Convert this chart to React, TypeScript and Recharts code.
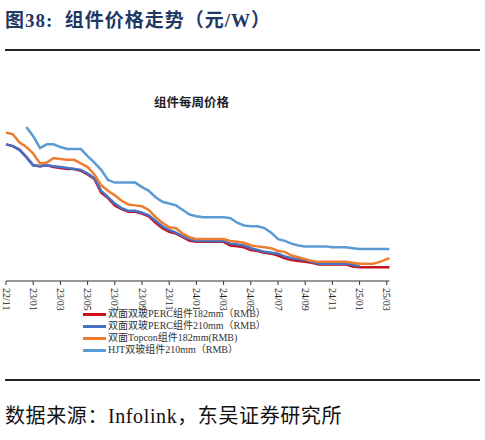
import React from "react";
import { LineChart, Line, XAxis, YAxis } from "recharts";

// x position in months after 2022-11 (half-month steps)
const monthPos = [
  0, 0.5, 1, 1.5, 2, 2.5, 3, 3.5, 4, 4.5, 5, 5.5, 6, 6.5, 7, 7.5, 8, 8.5, 9, 9.5,
  10, 10.5, 11, 11.5, 12, 12.5, 13, 13.5, 14, 14.5, 15, 15.5, 16, 16.5, 17, 17.5,
  18, 18.5, 19, 19.5, 20, 20.5, 21, 21.5, 22, 22.5, 23, 23.5, 24, 24.5, 25, 25.5,
  26, 26.5, 27, 27.5, 28, 28.2,
];

const perc182 = [
  2.0, 1.98, 1.94, 1.86, 1.77, 1.76, 1.77, 1.75, 1.74, 1.73, 1.73, 1.71, 1.67, 1.62,
  1.47, 1.41, 1.33, 1.29, 1.26, 1.26, 1.24, 1.21, 1.14, 1.08, 1.04, 1.02, 0.98, 0.94,
  0.93, 0.93, 0.93, 0.93, 0.93, 0.89, 0.88, 0.87, 0.84, 0.83, 0.81, 0.8, 0.78, 0.75,
  0.73, 0.72, 0.71, 0.7, 0.68, 0.68, 0.68, 0.68, 0.68, 0.66, 0.65, 0.65, 0.65, 0.65,
  0.65, 0.65,
];

const perc210 = [
  2.0, 1.98, 1.94, 1.86, 1.77, 1.76, 1.77, 1.76, 1.75, 1.74, 1.73, 1.72, 1.68, 1.63,
  1.49, 1.42, 1.35, 1.3, 1.27, 1.27, 1.25, 1.22, 1.16, 1.1, 1.06, 1.03, 0.99, 0.96,
  0.94, 0.94, 0.94, 0.94, 0.94, 0.91, 0.9, 0.89, 0.86, 0.84, 0.82, 0.81, 0.8, 0.77,
  0.75, 0.74, 0.73, 0.71, 0.69, 0.69, 0.69, 0.69, 0.69, 0.68, 0.66, null, null, null,
  null, null,
];

const topcon182 = [
  2.13, 2.11, 2.02, 1.97, 1.9, 1.79, 1.8, 1.85, 1.84, 1.83, 1.83, 1.79, 1.75, 1.67,
  1.55, 1.49, 1.44, 1.38, 1.34, 1.33, 1.32, 1.28, 1.2, 1.14, 1.09, 1.08, 1.02, 0.98,
  0.96, 0.96, 0.96, 0.96, 0.96, 0.94, 0.93, 0.92, 0.89, 0.88, 0.87, 0.86, 0.83, 0.82,
  0.78, 0.76, 0.74, 0.72, 0.71, 0.71, 0.71, 0.71, 0.71, 0.7, 0.69, 0.69, 0.69, 0.71,
  0.74, 0.75,
];

const hjt210 = [
  null, null, null, 2.19, 2.09, 1.96, 2.0, 2.0, 1.97, 1.95, 1.95, 1.95, 1.87, 1.8,
  1.72, 1.61, 1.58, 1.58, 1.58, 1.58, 1.53, 1.49, 1.42, 1.37, 1.35, 1.33, 1.28, 1.23,
  1.21, 1.2, 1.2, 1.2, 1.2, 1.19, 1.14, 1.11, 1.1, 1.1, 1.08, 1.03, 0.96, 0.94, 0.91,
  0.89, 0.88, 0.88, 0.88, 0.88, 0.87, 0.87, 0.87, 0.86, 0.85, 0.85, 0.85, 0.85, 0.85,
  0.85,
];

const tickMonths = [0, 2, 4, 6, 8, 10, 12, 14, 16, 18, 20, 22, 24, 26, 28];
const tickLabels = [
  "22/11", "23/01", "23/03", "23/05", "23/07", "23/09", "23/11", "24/01",
  "24/03", "24/05", "24/07", "24/09", "24/11", "25/01", "25/03",
];
const yTicks = [0.5, 0.7, 0.9, 1.1, 1.3, 1.5, 1.7, 1.9, 2.1, 2.3];

const series = [
  { key: "perc182", name: "双面双玻PERC组件182mm（RMB）", color: "#c8101e" },
  { key: "perc210", name: "双面双玻PERC组件210mm（RMB）", color: "#4472c4" },
  { key: "topcon182", name: "双面Topcon组件182mm(RMB)", color: "#ed7d31" },
  { key: "hjt210", name: "HJT双玻组件210mm（RMB）", color: "#5b9bd5" },
];

const data = monthPos.map((m, i) => ({
  m,
  perc182: perc182[i],
  perc210: perc210[i],
  topcon182: topcon182[i],
  hjt210: hjt210[i],
}));

const serif = '"Liberation Serif", "Times New Roman", "Noto Sans CJK SC", serif';

function MonthTick({ x, y, payload }: any) {
  const idx = tickMonths.indexOf(payload.value);
  return (
    <g transform={`translate(${x},${y + 1})`}>
      <text
        transform="rotate(90)"
        dy="0.33em"
        textAnchor="start"
        fontSize={10}
        fontFamily={serif}
        fill="#222"
      >
        {tickLabels[idx]}
      </text>
    </g>
  );
}

export default function App() {
  return (
    <div
      style={{
        position: "absolute",
        left: 0,
        top: 0,
        width: 485,
        height: 440,
        background: "#fff",
        overflow: "hidden",
      }}
    >
      <div
        style={{
          position: "absolute",
          left: 5,
          top: 5,
          fontSize: 19,
          fontWeight: "bold",
          color: "#1f3864",
          fontFamily: '"Liberation Serif", "Noto Sans CJK SC", serif',
          whiteSpace: "nowrap",
          letterSpacing: 1,
        }}
      >
        图38:&nbsp;&nbsp;组件价格走势（元/W）
      </div>
      <div
        style={{
          position: "absolute",
          left: 5,
          top: 49,
          width: 475,
          height: 2,
          background: "#222",
        }}
      />

      <div
        style={{
          position: "absolute",
          left: 154,
          top: 92,
          fontSize: 12.5,
          fontWeight: "bold",
          color: "#222",
          fontFamily: '"Noto Sans CJK SC", sans-serif',
          whiteSpace: "nowrap",
        }}
      >
        组件每周价格
      </div>

      <div style={{ position: "absolute", left: 0, top: 0 }}>
        <LineChart
          width={485}
          height={440}
          data={data}
          margin={{ top: 117, right: 95.5, bottom: 129, left: 6 }}
        >
          <XAxis
            dataKey="m"
            type="number"
            domain={[0, 28.2]}
            ticks={tickMonths}
            interval={0}
            height={30}
            tick={<MonthTick />}
            tickSize={4}
            axisLine={{ stroke: "#333" }}
            tickLine={{ stroke: "#333" }}
          />
          <YAxis
            type="number"
            domain={[0.5, 2.3]}
            ticks={yTicks}
            width={0}
            tick={() => <g />}
            tickSize={5}
            axisLine={{ stroke: "#555" }}
            tickLine={{ stroke: "#555" }}
          />
          {series.map((s) => (
            <Line
              key={s.key}
              dataKey={s.key}
              name={s.name}
              stroke={s.color}
              strokeWidth={2.5}
              dot={false}
              type="linear"
              isAnimationActive={false}
            />
          ))}
        </LineChart>
      </div>

      <div
        style={{
          position: "absolute",
          left: 83,
          top: 308,
          fontSize: 10,
          fontFamily: serif,
          color: "#333",
          lineHeight: "12.1px",
        }}
      >
        {series.map((s) => (
          <div key={s.key} style={{ display: "flex", alignItems: "center", whiteSpace: "nowrap" }}>
            <span
              style={{
                display: "inline-block",
                width: 23,
                height: 3,
                background: s.color,
                marginRight: 2,
              }}
            />
            {s.name}
          </div>
        ))}
      </div>

      <div
        style={{
          position: "absolute",
          left: 5,
          top: 379,
          width: 475,
          height: 2,
          background: "#222",
        }}
      />
      <div
        style={{
          position: "absolute",
          left: 5,
          top: 400,
          fontSize: 20,
          fontFamily: serif,
          color: "#111",
          whiteSpace: "nowrap",
          letterSpacing: 0.6,
        }}
      >
        数据来源：Infolink，东吴证券研究所
      </div>
    </div>
  );
}
